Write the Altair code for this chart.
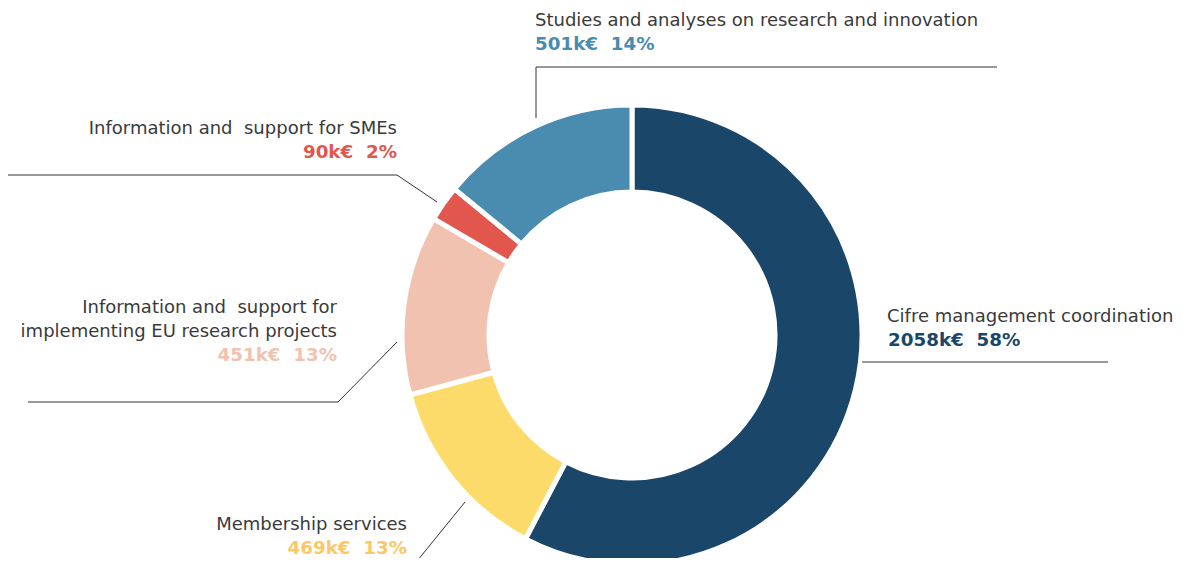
import altair as alt
import pandas as pd

# ---- data ----
categories = [
    "Cifre management coordination",
    "Membership services",
    "Information and  support for implementing EU research projects",
    "Information and  support for SMEs",
    "Studies and analyses on research and innovation",
]
amounts_k = [2058, 469, 451, 90, 501]
percents = [58, 13, 13, 2, 14]
slice_colors = ["#1a4769", "#fcdb6a", "#f2c2b0", "#e1574e", "#4a8bb0"]
value_colors = ["#1a4769", "#fbc865", "#f2c2b0", "#e1574e", "#4a8bb0"]

# ---- layout (page pixel positions of labels / leader lines) ----
OFF = 8
CX, CY = 632 - OFF, 335 - OFF
R_OUT, R_IN = 230, 143
NB = "\u00a0"

# label lines: (text, x, y, align, category index)
name_lines = [
    ("Cifre management coordination", 887, 317, "left", 0),
    ("Membership services", 407, 525, "right", 1),
    ("Information and" + NB + " support for", 337, 308, "right", 2),
    ("implementing EU research projects", 337, 332, "right", 2),
    ("Information and" + NB + " support for SMEs", 397, 129, "right", 3),
    ("Studies and analyses on research and innovation", 535, 21, "left", 4),
]
value_pos = [(888, 341, "left"), (407, 549, "right"), (337, 356, "right"),
             (397, 153, "right"), (535, 45, "left")]
leader_segments = [
    (862, 362, 1108, 362),
    (465, 502, 413, 566),
    (28, 402, 338, 402), (338, 402, 397, 342),
    (4, 175, 397, 175), (397, 175, 437, 202),
    (536, 118, 536, 67), (536, 67, 997, 67),
]

# ---- tables ----
pie = pd.DataFrame({
    "category": categories,
    "amount": amounts_k,
    "order": list(range(len(categories))),
})

names = pd.DataFrame([
    {"text": t, "x": x - OFF, "y": y - OFF, "align": a}
    for t, x, y, a, i in name_lines
])
vals = pd.DataFrame([
    {"text": f"{amounts_k[i]}k€{NB} {percents[i]}%", "x": p[0] - OFF, "y": p[1] - OFF,
     "align": p[2], "category": categories[i]}
    for i, p in enumerate(value_pos)
])
lines = pd.DataFrame([
    {"x": a - OFF, "y": b - OFF, "x2": c - OFF, "y2": d - OFF}
    for a, b, c, d in leader_segments
])

color_scale = alt.Scale(domain=categories, range=slice_colors)
value_scale = alt.Scale(domain=categories, range=value_colors)

arcs = alt.Chart(pie).mark_arc(
    radius=R_OUT, radius2=R_IN, stroke="white", strokeWidth=5
).encode(
    theta=alt.Theta("amount:Q", stack=True),
    order=alt.Order("order:Q"),
    color=alt.Color("category:N", scale=color_scale, legend=None),
    x=alt.value(CX),
    y=alt.value(CY),
)

rules = alt.Chart(lines).mark_rule(color="#333333", strokeWidth=1).encode(
    x=alt.X("x:Q", scale=None),
    y=alt.Y("y:Q", scale=None),
    x2="x2:Q",
    y2="y2:Q",
)

FONT = "DejaVu Sans"

def name_layer(align):
    return alt.Chart(names).transform_filter(
        alt.datum.align == align
    ).mark_text(
        align=align, baseline="middle", font=FONT, fontSize=18,
        color="#3a3a3a", fontWeight="normal"
    ).encode(
        x=alt.X("x:Q", scale=None), y=alt.Y("y:Q", scale=None), text="text:N"
    )

def value_layer(align):
    return alt.Chart(vals).transform_filter(
        alt.datum.align == align
    ).mark_text(
        align=align, baseline="middle", font=FONT, fontSize=18.3, fontWeight="bold"
    ).encode(
        x=alt.X("x:Q", scale=None), y=alt.Y("y:Q", scale=None), text="text:N",
        color=alt.Color("category:N", scale=value_scale, legend=None),
    )

chart = alt.layer(
    arcs, rules,
    name_layer("left"), name_layer("right"),
    value_layer("left"), value_layer("right"),
).resolve_scale(color="independent").properties(
    width=1168, height=550, padding=0, autosize="none",
    background="white",
).configure_view(stroke=None)

chart.save("out.html", embed_options={"renderer": "svg", "actions": False})
